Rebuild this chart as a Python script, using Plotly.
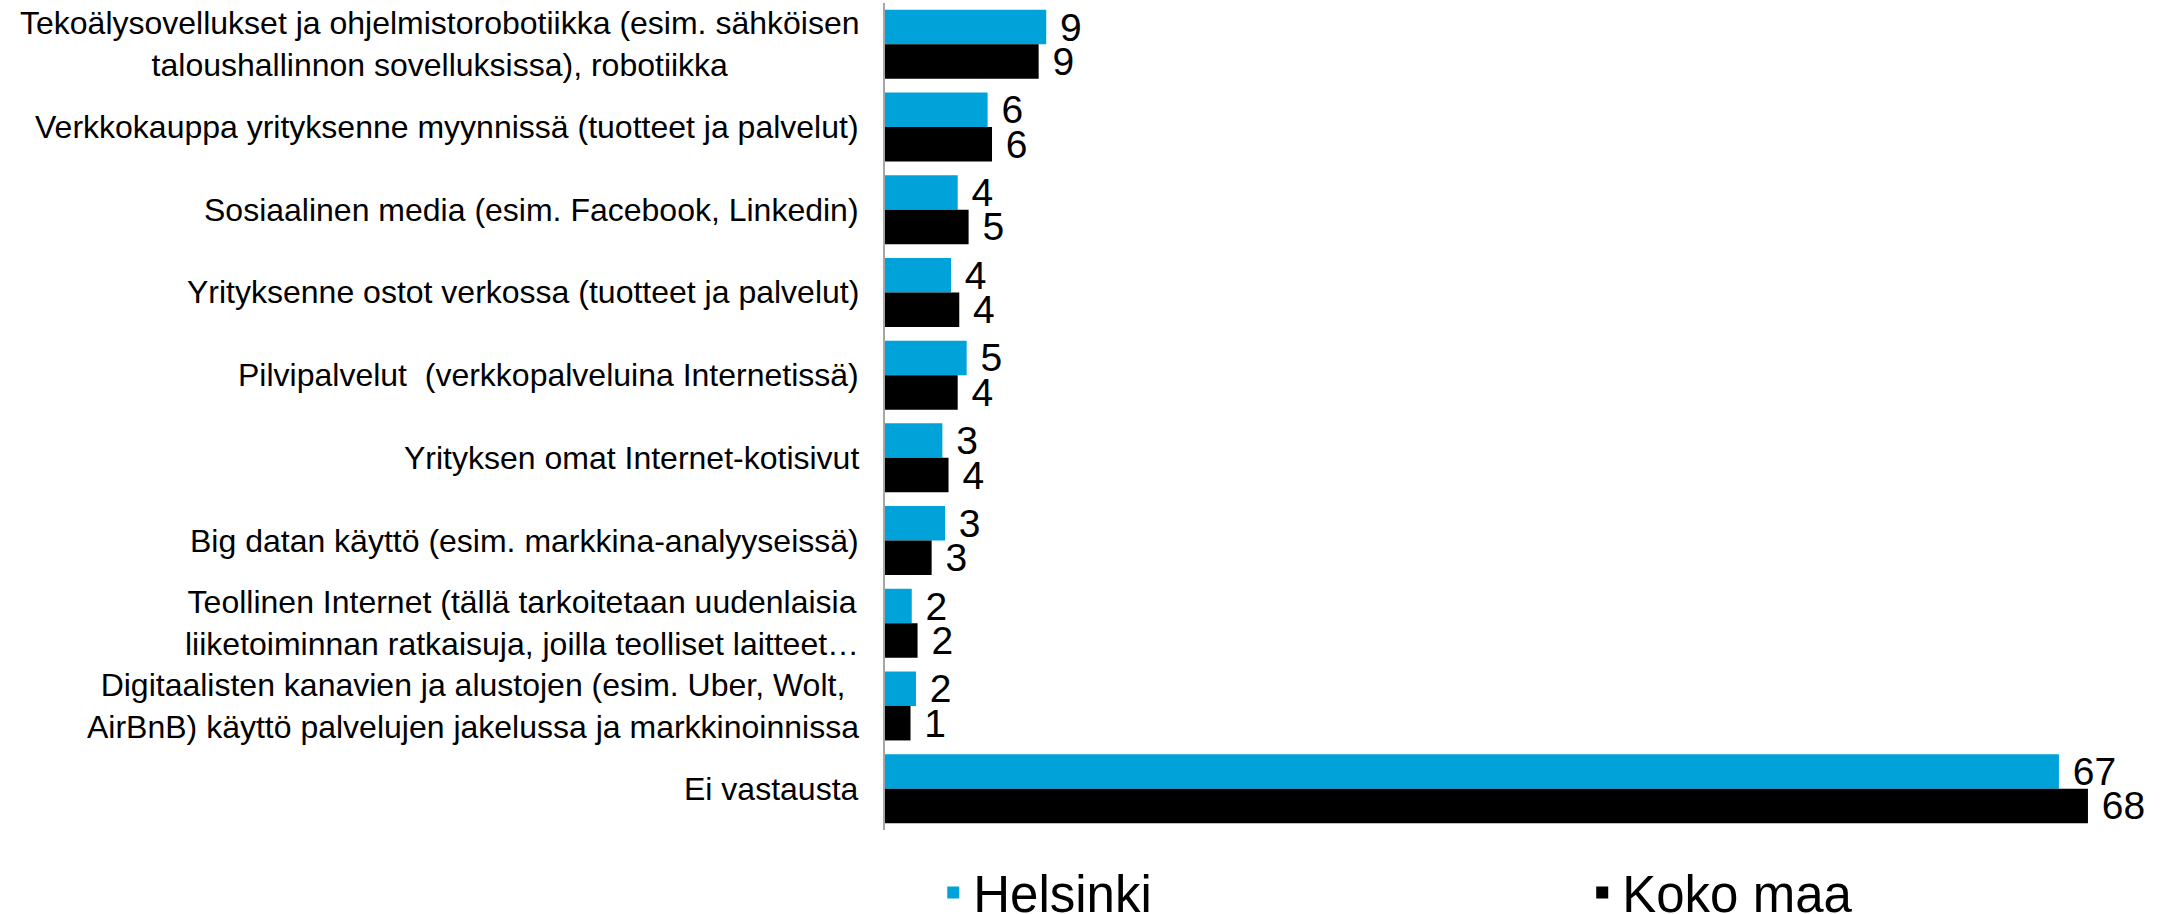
import plotly.graph_objects as go

categories = [
    "Tekoälysovellukset ja ohjelmistorobotiikka (esim. sähköisen<br>taloushallinnon sovelluksissa), robotiikka",
    "Verkkokauppa yrityksenne myynnissä (tuotteet ja palvelut)",
    "Sosiaalinen media (esim. Facebook, Linkedin)",
    "Yrityksenne ostot verkossa (tuotteet ja palvelut)",
    "Pilvipalvelut  (verkkopalveluina Internetissä)",
    "Yrityksen omat Internet-kotisivut",
    "Big datan käyttö (esim. markkina-analyyseissä)",
    "Teollinen Internet (tällä tarkoitetaan uudenlaisia<br>liiketoiminnan ratkaisuja, joilla teolliset laitteet…",
    "Digitaalisten kanavien ja alustojen (esim. Uber, Wolt,<br>AirBnB) käyttö palvelujen jakelussa ja markkinoinnissa",
    "Ei vastausta",
]
helsinki = [9.16, 5.83, 4.13, 3.75, 4.64, 3.26, 3.41, 1.52, 1.76, 66.7]
koko_maa = [8.73, 6.08, 4.75, 4.22, 4.13, 3.61, 2.65, 1.85, 1.45, 68.35]
series_names = ["Helsinki", "Koko maa"]
series_colors = ["#00A3D9", "#000000"]

FONT = "Liberation Sans, Arial, sans-serif"
W, H = 2165, 914
ML, MR, MT, MB = 885, 10, 3, 84

fig = go.Figure()
for name, vals, col, lg in zip(series_names, [helsinki, koko_maa], series_colors,
                               ["legend", "legend2"]):
    fig.add_trace(go.Bar(
        y=categories, x=vals, name=name, orientation="h", legend=lg,
        marker=dict(color=col, line=dict(width=0)),
        texttemplate="\u00a0%{x:.0f}", textposition="outside",
        textfont=dict(family=FONT, size=39, color="#000000"),
        constraintext="none", cliponaxis=False, hoverinfo="x+name",
    ))

for c in categories:
    fig.add_annotation(
        x=0, xref="paper", y=c, yref="y", text=c, showarrow=False,
        xanchor="right", yanchor="middle", align="center", xshift=-24,
        font=dict(family=FONT, size=32, color="#000000"),
    )

legend_style = dict(orientation="h", xanchor="left", y=-0.076, yanchor="middle",
                    font=dict(family=FONT, size=51, color="#000000"),
                    bgcolor="rgba(0,0,0,0)")

plot_w = W - ML - MR
fig.update_layout(
    width=W, height=H,
    margin=dict(l=ML, r=MR, t=MT, b=MB, autoexpand=False),
    paper_bgcolor="white", plot_bgcolor="white",
    barmode="group", bargap=0.166, bargroupgap=0,
    font=dict(family=FONT, color="#000000"),
    xaxis=dict(range=[0, plot_w / 17.6], showticklabels=False, showgrid=False,
               zeroline=False, showline=False, ticks=""),
    yaxis=dict(autorange="reversed", showticklabels=False, showgrid=False,
               zeroline=False, showline=True, linecolor="#A6A6A6", linewidth=2,
               ticks=""),
    legend=dict(x=0.038, **legend_style),
    legend2=dict(x=0.549, **legend_style),
    showlegend=True,
)

fig.write_html(
    "out.html",
    config={"displayModeBar": False},
    post_script="document.body.style.margin='0';document.body.style.overflow='hidden';",
)
